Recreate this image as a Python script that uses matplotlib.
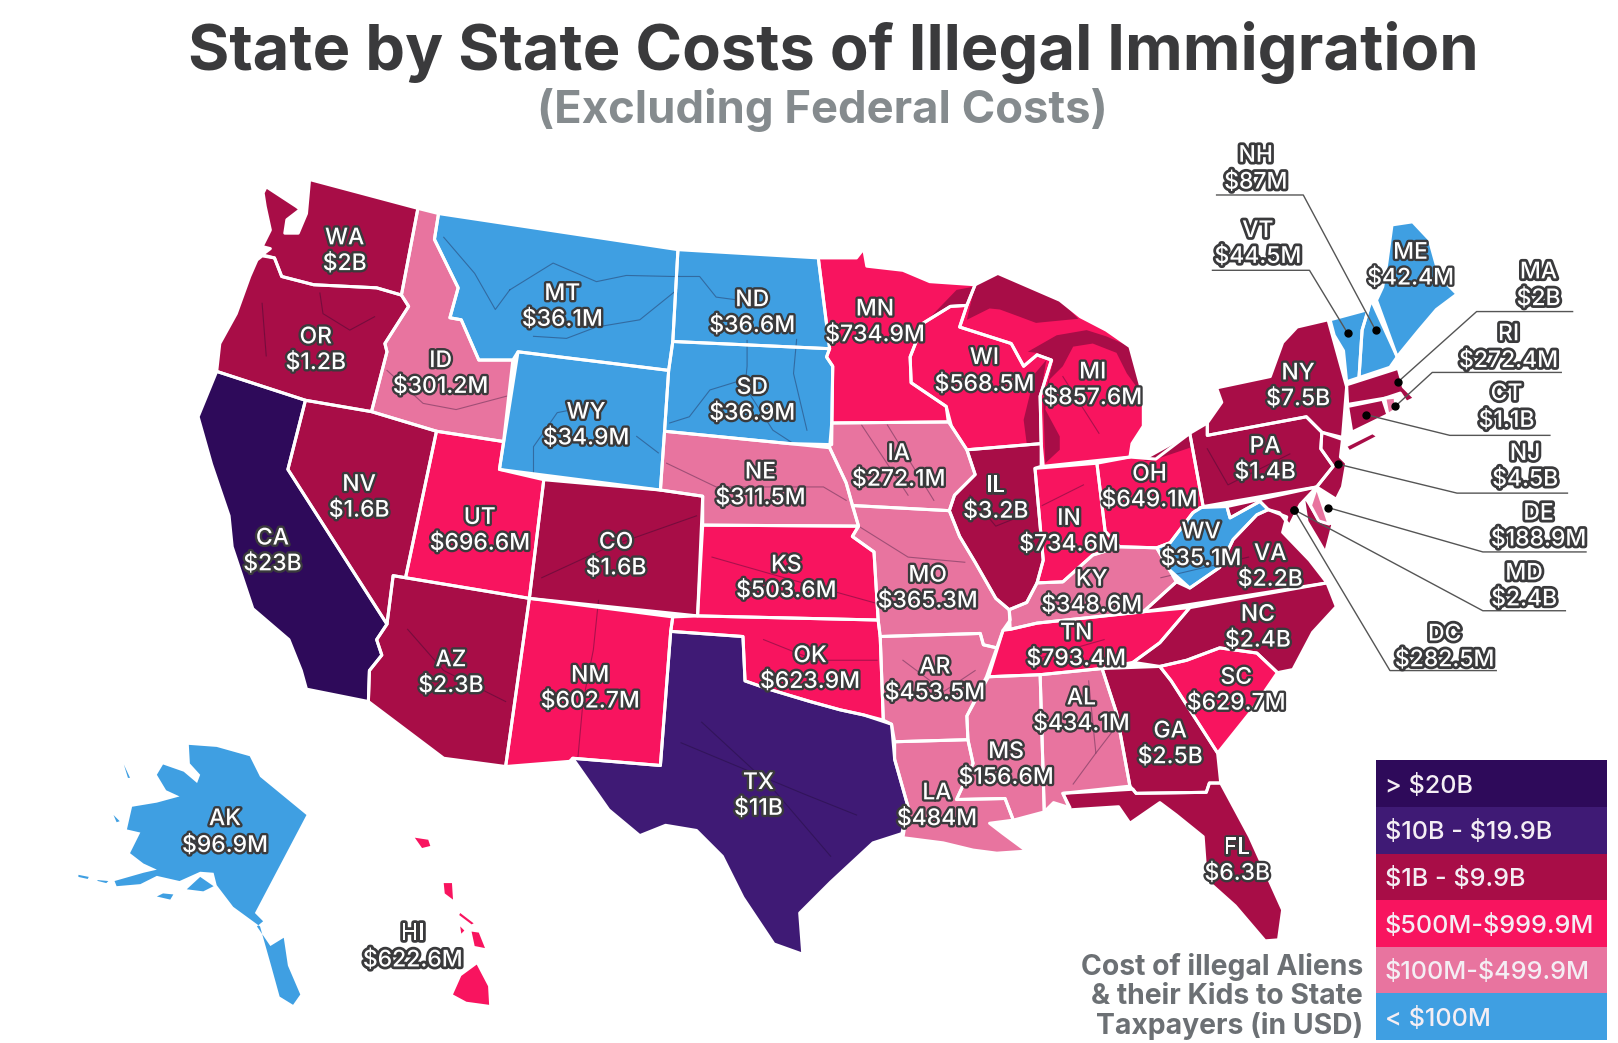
#!/usr/bin/env python3
"""
State by state costs map, outlines traced by hand.
"""

import matplotlib
matplotlib.use("Agg")
import matplotlib.pyplot as plt
import matplotlib.patheffects as pe
from matplotlib.patches import Polygon, Rectangle

plt.rcParams['font.family'] = ['Inter', 'DejaVu Sans']

TITLE = "State by State Costs of Illegal Immigration"
SUBTITLE = "(Excluding Federal Costs)"

STATES = ["WA", "OR", "CA", "NV", "ID", "MT", "WY", "UT", "AZ", "CO", "NM", "ND", "SD", "NE", "KS", "OK", "TX",
          "MN", "IA", "MO", "AR", "LA", "MS", "AL", "GA", "FL", "SC", "NC", "TN", "KY", "IL", "IN", "OH", "MI",
          "WI", "PA", "NY", "WV", "VA", "AK", "HI", "ME", "NH", "VT", "MA", "RI", "CT", "NJ", "DE", "MD", "DC"]
COSTS_M = [2000, 1200, 23000, 1600, 301.2, 36.1, 34.9, 696.6, 2300, 1600, 602.7, 36.6, 36.9, 311.5, 503.6, 623.9, 11000,
           734.9, 272.1, 365.3, 453.5, 484, 156.6, 434.1, 2500, 6300, 629.7, 2400, 793.4, 348.6, 3200, 734.6, 649.1, 857.6,
           568.5, 1400, 7500, 35.1, 2200, 96.9, 622.6, 42.4, 87, 44.5, 2000, 272.4, 1100, 4500, 188.9, 2400, 282.5]
COST_LABELS = ["$2B", "$1.2B", "$23B", "$1.6B", "$301.2M", "$36.1M", "$34.9M", "$696.6M", "$2.3B", "$1.6B", "$602.7M",
               "$36.6M", "$36.9M", "$311.5M", "$503.6M", "$623.9M", "$11B", "$734.9M", "$272.1M", "$365.3M", "$453.5M",
               "$484M", "$156.6M", "$434.1M", "$2.5B", "$6.3B", "$629.7M", "$2.4B", "$793.4M", "$348.6M", "$3.2B",
               "$734.6M", "$649.1M", "$857.6M", "$568.5M", "$1.4B", "$7.5B", "$35.1M", "$2.2B", "$96.9M", "$622.6M",
               "$42.4M", "$87M", "$44.5M", "$2B", "$272.4M", "$1.1B", "$4.5B", "$188.9M", "$2.4B", "$282.5M"]

LEGEND_LABELS = ["> $20B", "$10B - $19.9B", "$1B - $9.9B", "$500M-$999.9M", "$100M-$499.9M", "< $100M"]
LEGEND_FLOORS = [20000, 10000, 1000, 500, 100, 0]
LEGEND_COLORS = ["#2e0a5a", "#3f1a75", "#a80d47", "#f8145f", "#e8749f", "#3f9fe2"]
LEGEND_NOTE = "Cost of illegal Aliens\n& their Kids to State\nTaxpayers (in USD)"

# state outlines
OUTLINES = {
    "WA": [[(255, 187), (258, 181), (287, 200), (291, 203), (278, 213), (276, 226), (289, 226), (297, 207), (300, 174),
            (405, 202), (389, 286), (365, 279), (304, 276), (273, 268), (266, 250), (254, 247), (262, 241), (254, 239),
            (262, 223), (257, 200)]],
    "OR": [[(254, 248), (266, 250), (273, 268), (304, 276), (365, 279), (389, 286), (396, 297), (373, 333), (375, 341),
            (360, 399), (296, 388), (210, 360), (213, 333), (229, 304), (242, 268), (249, 252)]],
    "CA": [[(210, 360), (296, 388), (279, 455), (375, 605), (365, 620), (370, 635), (358, 650), (357, 680), (297, 668),
            (292, 650), (280, 620), (245, 590), (225, 530), (222, 500), (205, 450), (192, 404)]],
    "NV": [[(279, 455), (296, 388), (360, 399), (423, 418), (393, 560), (381, 558), (375, 605)]],
    "ID": [[(405, 202), (425, 207), (421, 232), (444, 279), (436, 308), (447, 310), (464, 349), (497, 349), (488, 428),
            (423, 418), (360, 399), (375, 341), (373, 333), (396, 297), (389, 286)]],
    "MT": [[(425, 207), (657, 242), (652, 331), (648, 359), (502, 341), (497, 349), (464, 349), (447, 310), (436, 308),
            (444, 279), (421, 232)]],
    "WY": [[(502, 341), (648, 359), (644, 418), (640, 475), (484, 455)]],
    "UT": [[(423, 418), (488, 428), (484, 455), (527, 465), (513, 580), (393, 560)]],
    "AZ": [[(393, 560), (513, 580), (490, 743), (430, 735), (357, 680), (358, 650), (370, 635), (365, 620), (375, 605),
            (381, 558)]],
    "CO": [[(527, 465), (640, 475), (681, 481), (676, 597), (513, 580)]],
    "NM": [[(513, 580), (652, 598), (650, 612), (640, 742), (555, 735), (552, 738), (490, 743)]],
    "ND": [[(657, 242), (793, 250), (804, 338), (652, 331)]],
    "SD": [[(652, 331), (804, 338), (801, 346), (807, 355), (806, 431), (765, 430), (644, 418), (648, 359)]],
    "NE": [[(644, 418), (765, 430), (804, 434), (820, 468), (832, 510), (681, 509), (681, 481), (640, 475)]],
    "KS": [[(681, 509), (832, 510), (826, 520), (847, 535), (851, 601), (676, 597)]],
    "OK": [[(652, 598), (676, 597), (851, 601), (853, 617), (856, 698), (837, 693), (814, 688), (785, 680), (745, 668),
            (722, 660), (720, 617), (650, 612)]],
    "TX": [[(650, 612), (720, 617), (722, 660), (745, 668), (785, 680), (814, 688), (837, 693), (864, 702), (867, 736),
            (880, 782), (874, 808), (846, 817), (805, 855), (775, 885), (778, 925), (750, 915), (720, 870), (700, 830),
            (675, 805), (645, 800), (620, 810), (590, 785), (555, 735), (640, 742)]],
    "MN": [[(793, 250), (830, 250), (837, 241), (840, 258), (875, 262), (901, 273), (945, 276), (937, 296), (921, 297),
            (895, 313), (882, 346), (883, 371), (917, 394), (919, 409), (806, 410), (807, 355), (801, 346), (804, 338)]],
    "IA": [[(806, 410), (919, 409), (922, 413), (937, 436), (945, 460), (925, 480), (920, 495), (826, 490), (820, 468),
            (804, 434)]],
    "MO": [[(826, 490), (920, 495), (930, 520), (945, 545), (965, 580), (978, 591), (979, 601), (972, 611), (966, 628),
            (953, 625), (950, 614), (853, 617), (851, 601), (847, 535), (826, 520), (832, 510)]],
    "AR": [[(853, 617), (950, 614), (953, 625), (966, 628), (956, 656), (937, 694), (938, 717), (867, 719), (864, 702),
            (856, 698)]],
    "LA": [[(867, 719), (938, 717), (943, 740), (927, 775), (974, 774), (982, 795), (959, 798), (972, 808), (995, 825),
            (966, 827), (943, 824), (914, 817), (875, 812), (880, 782), (867, 736)]],
    "MS": [[(958, 656), (1008, 654), (1012, 787), (982, 795), (974, 774), (927, 775), (943, 740), (938, 717), (937, 694)]],
    "AL": [[(1008, 654), (1068, 648), (1082, 691), (1095, 762), (1030, 769), (1037, 783), (1021, 778), (1012, 787)]],
    "GA": [[(1068, 648), (1124, 646), (1135, 660), (1180, 730), (1183, 759), (1172, 759), (1169, 768), (1101, 769),
            (1095, 762), (1082, 691)]],
    "FL": [[(1030, 769), (1098, 765), (1101, 769), (1169, 768), (1172, 759), (1183, 759), (1211, 811), (1243, 882),
            (1239, 911), (1226, 912), (1197, 878), (1169, 853), (1166, 811), (1140, 790), (1124, 778), (1095, 798),
            (1084, 782), (1037, 785)]],
    "SC": [[(1124, 646), (1150, 640), (1182, 628), (1218, 633), (1238, 652), (1212, 690), (1180, 730), (1135, 660)]],
    "NC": [[(1098, 642), (1124, 623), (1153, 589), (1286, 565), (1295, 588), (1272, 613), (1253, 649), (1238, 652),
            (1218, 633), (1182, 628), (1150, 640), (1124, 646)]],
    "TN": [[(958, 656), (972, 611), (979, 610), (1005, 604), (1108, 593), (1153, 589), (1124, 623), (1098, 642),
            (1068, 648), (1008, 654)]],
    "KY": [[(978, 591), (979, 610), (1005, 604), (1108, 593), (1140, 564), (1121, 531), (1085, 530), (1059, 538),
            (1030, 564), (1005, 565), (995, 584)]],
    "IL": [[(937, 436), (1009, 430), (1009, 452), (1003, 454), (1011, 543), (1005, 565), (995, 584), (978, 591), (965, 580),
            (945, 545), (930, 520), (920, 495), (925, 480), (945, 460)]],
    "IN": [[(1003, 454), (1063, 449), (1071, 515), (1085, 530), (1059, 538), (1030, 564), (1005, 565), (1011, 543)]],
    "OH": [[(1063, 449), (1095, 443), (1120, 445), (1153, 420), (1166, 491), (1156, 497), (1134, 526), (1121, 531),
            (1085, 530), (1071, 515)]],
    "MI": [[(945, 276), (967, 265), (1027, 291), (1047, 307), (1072, 320), (1095, 336), (1108, 384), (1108, 413),
            (1097, 430), (1095, 443), (1011, 452), (1009, 430), (1008, 384), (1019, 349), (1005, 344), (992, 355),
            (980, 333), (930, 317), (937, 296)]],
    "WI": [[(895, 313), (921, 297), (937, 296), (930, 317), (980, 333), (992, 355), (1005, 344), (1019, 349), (1008, 384),
            (1009, 430), (937, 436), (922, 413), (917, 394), (883, 371), (882, 346)]],
    "PA": [[(1166, 491), (1153, 420), (1170, 410), (1170, 422), (1266, 404), (1281, 419), (1280, 435), (1292, 452),
            (1276, 472)]],
    "NY": [[(1287, 310), (1257, 317), (1243, 332), (1231, 365), (1179, 376), (1184, 390), (1170, 410), (1170, 422),
            (1266, 404), (1281, 419), (1301, 424), (1305, 375)],
           [(1306, 433), (1330, 421), (1333, 423), (1308, 436)]],
    "WV": [[(1163, 492), (1189, 491), (1192, 502), (1221, 486), (1229, 494), (1218, 499), (1195, 523), (1182, 550),
            (1153, 570), (1133, 552), (1121, 531), (1134, 526), (1156, 497)]],
    "VA": [[(1108, 593), (1140, 564), (1153, 570), (1182, 550), (1195, 523), (1218, 499), (1229, 494), (1247, 501),
            (1243, 516), (1269, 543), (1286, 565)]],
    "MD": [[(1189, 491), (1276, 472), (1260, 489), (1250, 509), (1260, 523), (1240, 497), (1229, 494), (1221, 486),
            (1192, 502)],
           [(1265, 485), (1277, 505), (1290, 509), (1284, 532), (1277, 520), (1268, 505)]],
    "DE": [[(1276, 472), (1288, 508), (1278, 505), (1270, 490)]],
    "NJ": [[(1281, 419), (1301, 426), (1299, 443), (1305, 449), (1301, 472), (1295, 484), (1276, 472), (1292, 452),
            (1280, 435)]],
    "CT": [[(1306, 394), (1340, 387), (1345, 402), (1310, 419)]],
    "RI": [[(1342, 386), (1352, 385), (1353, 397), (1345, 402)]],
    "MA": [[(1305, 373), (1355, 357), (1360, 375), (1371, 386), (1363, 390), (1357, 381), (1342, 386), (1306, 392)]],
    "VT": [[(1289, 310), (1326, 300), (1320, 320), (1317, 366), (1305, 370), (1302, 340), (1293, 325)]],
    "NH": [[(1326, 300), (1329, 291), (1354, 346), (1347, 356), (1317, 366), (1320, 320)]],
    "ME": [[(1334, 291), (1340, 278), (1344, 255), (1349, 218), (1369, 215), (1385, 232), (1395, 268), (1412, 285),
            (1392, 300), (1375, 320), (1357, 342), (1354, 346)]],
    "AK": [[(183, 722), (210, 724), (242, 733), (252, 753), (297, 790), (247, 885), (255, 893), (249, 898), (262, 917),
            (275, 909), (279, 936), (291, 964), (284, 974), (271, 966), (263, 937), (252, 898), (226, 879), (210, 858),
            (207, 846), (194, 845), (174, 854), (152, 849), (136, 857), (113, 859), (111, 854), (139, 846), (152, 843),
            (139, 837), (126, 827), (136, 807), (123, 804), (128, 782), (152, 778), (174, 772), (161, 766), (152, 751),
            (158, 741), (178, 748), (191, 759), (194, 751), (184, 740)],
           [(181, 862), (194, 850), (207, 859), (197, 864)],
           [(152, 869), (165, 872), (168, 867), (158, 866)],
           [(76, 848), (86, 850), (85, 852), (76, 850)],
           [(94, 853), (105, 854), (103, 856), (95, 854)],
           [(110, 790), (116, 796), (113, 797)],
           [(120, 741), (126, 754), (124, 754)]],
    "HI": [[(402, 812), (415, 814), (417, 820), (409, 822)],
           [(430, 856), (438, 856), (439, 872), (431, 866)],
           [(446, 885), (459, 895), (457, 896), (445, 887)],
           [(446, 898), (450, 902), (447, 905)],
           [(457, 903), (464, 904), (470, 919), (460, 917)],
           [(462, 935), (473, 956), (474, 974), (452, 971), (439, 964), (447, 946)]],
    "DC": [[(1251, 492), (1256, 492), (1256, 497), (1251, 497)]],
}
NO_EDGE_STATES = {"AK", "HI", "DC"}

# lake water inside the state shapes prints darker in the reference
LAKE_COLOR = "#a80d47"
LAKES = [
    [(945, 276), (967, 265), (1027, 291), (1045, 309), (1014, 312), (1004, 313), (988, 307), (969, 300), (959, 299), (937, 310)],
    [(901, 308), (927, 281), (943, 278), (938, 294), (921, 297)],
    [(992, 407), (1003, 362), (1014, 349), (1008, 384), (1009, 430), (995, 430)],
    [(996, 341), (1024, 325), (1053, 320), (1072, 326), (1095, 336), (1108, 384), (1092, 362), (1082, 342), (1059, 333),
     (1040, 336), (1030, 355), (1017, 368), (1013, 397), (1027, 423), (1027, 436), (1013, 449), (1011, 388), (1021, 349),
     (1005, 342)],
    [(995, 433), (1009, 433), (1009, 452), (1001, 449)],
    [(1108, 447), (1153, 422), (1156, 433), (1118, 446)],
    [(1179, 376), (1231, 365), (1233, 371), (1182, 384)],
]

# main rivers, thin dark lines
RIVERS = [
    [(494, 281), (536, 255), (578, 273), (607, 267), (652, 268), (678, 268), (694, 288), (724, 292)],
    [(724, 330), (724, 355), (722, 375), (749, 417), (769, 430)],
    [(517, 326), (549, 328), (578, 317), (620, 310), (656, 281)],
    [(649, 410), (668, 404), (688, 378), (714, 370)],
    [(772, 329), (769, 362), (782, 417)],
    [(646, 449), (694, 472), (798, 472), (820, 485)],
    [(517, 459), (517, 433), (540, 400), (565, 395)],
    [(617, 423), (638, 439)],
    [(375, 359), (410, 391), (442, 397), (491, 384)],
    [(310, 284), (313, 304), (339, 320), (363, 307)],
    [(254, 294), (258, 345)],
    [(430, 230), (460, 265), (480, 300), (494, 281)],
    [(525, 560), (590, 530), (675, 500)],
    [(395, 610), (430, 650), (490, 680)],
    [(580, 582), (575, 630), (565, 680), (560, 735)],
    [(680, 700), (745, 760), (805, 830)],
    [(660, 720), (780, 770), (830, 790)],
    [(690, 540), (760, 560), (850, 585)],
    [(740, 620), (790, 640), (850, 640)],
    [(832, 510), (880, 540), (935, 545)],
    [(875, 640), (915, 670), (945, 650)],
    [(835, 412), (880, 480)],
    [(860, 412), (905, 485)],
    [(940, 480), (965, 510), (990, 500)],
    [(1010, 490), (1050, 470)],
    [(1000, 640), (1070, 620)],
    [(1055, 660), (1062, 730), (1085, 700)],
    [(1062, 730), (1040, 760)],
    [(1030, 365), (1065, 420)],
    [(1170, 435), (1190, 470), (1250, 440)],
    [(1125, 560), (1210, 540)],
]
RIVER_COLOR = "#1a0a2a"

# label centres: x, y of the state line, y of the cost line
LABEL_POS = {
    "WA": (334, 229, 254), "OR": (306, 325, 350), "CA": (264, 520, 545), "NV": (348, 468, 493), "ID": (427, 348, 373),
    "MT": (545, 283, 308), "WY": (568, 398, 423), "UT": (465, 500, 525), "AZ": (437, 638, 663), "CO": (597, 524, 549),
    "NM": (572, 653, 678), "ND": (729, 289, 314), "SD": (729, 374, 399), "NE": (737, 456, 481), "KS": (762, 546, 571),
    "OK": (785, 634, 659), "TX": (735, 757, 782), "MN": (848, 298, 323), "IA": (871, 438, 463), "MO": (899, 556, 581),
    "AR": (906, 645, 670), "LA": (908, 767, 792), "MS": (975, 727, 752), "AL": (1048, 675, 700), "GA": (1134, 707, 732),
    "FL": (1199, 820, 845), "SC": (1198, 655, 680), "NC": (1219, 594, 619), "TN": (1043, 612, 637), "KY": (1058, 560, 585),
    "IL": (965, 469, 494), "IN": (1036, 501, 526), "OH": (1114, 458, 483), "MI": (1059, 359, 384), "WI": (954, 345, 371),
    "PA": (1226, 431, 456), "NY": (1258, 360, 385), "WV": (1164, 514, 540), "VA": (1231, 535, 560), "AK": (218, 792, 818),
    "HI": (400, 903, 929), "ME": (1367, 243, 268), "NH": (1217, 149, 175), "VT": (1219, 222, 247), "MA": (1491, 262, 288),
    "RI": (1462, 322, 348), "CT": (1460, 380, 406), "NJ": (1478, 438, 463), "DE": (1491, 496, 521), "MD": (1477, 554, 579),
    "DC": (1400, 613, 638),
}

# callout leaders for the small states: end of underline, elbow, dot
LEADERS = {
    "NH": [(1179, 189), (1263, 189), (1333, 320)],
    "VT": [(1175, 262), (1269, 262), (1306, 323)],
    "MA": [(1524, 302), (1431, 302), (1355, 370)],
    "RI": [(1513, 361), (1388, 361), (1352, 394)],
    "CT": [(1502, 422), (1405, 422), (1324, 402)],
    "NJ": [(1519, 478), (1412, 478), (1297, 450)],
    "DE": [(1537, 535), (1437, 535), (1287, 492)],
    "MD": [(1517, 592), (1437, 592), (1254, 494)],
    "DC": [(1450, 650), (1347, 650), (1254, 494)],
}
OUTLINED_LABELS = set(LEADERS) | {"HI"}


def cost_color(cost):
    for floor, color in zip(LEGEND_FLOORS, LEGEND_COLORS):
        if cost >= floor:
            return color
    return LEGEND_COLORS[-1]


fig = plt.figure(figsize=(16.18, 10.43), dpi=100)
ax = fig.add_axes([0, 0, 1, 1])
ax.set_xlim(0, 1568)
ax.set_ylim(1011, 0)
ax.axis("off")

ax.text(808, 51, TITLE, ha="center", va="center", fontsize=45.5, fontweight="bold", color="#3a3a3c")
ax.text(797, 107, SUBTITLE, ha="center", va="center", fontsize=32.7, fontweight="bold", color="#858b8e")

# fills first, then lakes and rivers, white borders on top
for state, cost in zip(STATES, COSTS_M):
    for outline in OUTLINES[state]:
        ax.add_patch(Polygon(outline, closed=True, facecolor=cost_color(cost), edgecolor="none", zorder=2))

for lake in LAKES:
    ax.add_patch(Polygon(lake, closed=True, facecolor=LAKE_COLOR, edgecolor="none", zorder=2.2))

for river in RIVERS:
    xs, ys = zip(*river)
    ax.plot(xs, ys, color=RIVER_COLOR, linewidth=0.8, alpha=0.35, zorder=2.4)

for state in STATES:
    if state in NO_EDGE_STATES:
        continue
    ax.add_patch(Polygon(OUTLINES[state][0], closed=True, facecolor="none", edgecolor="white",
                         linewidth=2.2, joinstyle="round", zorder=3))

for state, points in LEADERS.items():
    xs, ys = zip(*points)
    ax.plot(xs, ys, color="#555555", linewidth=1.0, zorder=4)
    ax.plot(xs[-1], ys[-1], "o", color="black", markersize=5, zorder=5)

for state, label in zip(STATES, COST_LABELS):
    x, y_state, y_cost = LABEL_POS[state]
    stroke = 4.0 if state in OUTLINED_LABELS else 3.4
    for y, text in ((y_state, state), (y_cost, label)):
        t = ax.text(x, y + 2, text, ha="center", va="center", fontsize=16.5, fontweight="medium", color="white",
                    zorder=6, parse_math=False)
        t.set_path_effects([pe.withStroke(linewidth=stroke, foreground="#3a3a3c")])

# legend blocks
legend_top, row_h = 737, 45.2
for i, (label, color) in enumerate(zip(LEGEND_LABELS, LEGEND_COLORS)):
    y = legend_top + i * row_h
    ax.add_patch(Rectangle((1333, y), 224, row_h, facecolor=color, edgecolor="none", zorder=2))
    ax.text(1342, y + row_h / 2 + 2, label, ha="left", va="center", fontsize=18.2, fontweight="medium",
            color="#f4eef4", zorder=3, parse_math=False)
ax.text(1321, 966, LEGEND_NOTE, ha="right", va="center", fontsize=20.4, fontweight="bold", color="#6c7074",
        linespacing=1.08, zorder=3, parse_math=False)

fig.savefig("out.png", dpi=100)
